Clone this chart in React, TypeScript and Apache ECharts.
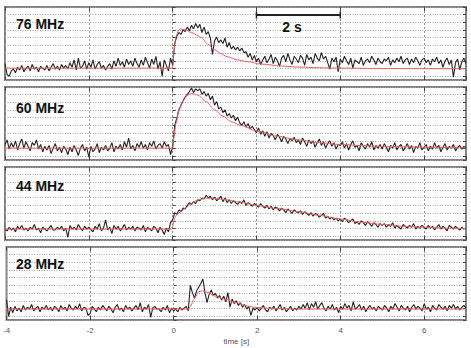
import React, { useEffect, useRef } from 'react';
import * as echarts from 'echarts';

const TIME_START = -4;
const TIME_STEP = 0.05;
const X_MIN = -4;
const X_MAX = 7;
const X_INTERVAL = 2;
const BAND_LABELS = ['76 MHz', '60 MHz', '44 MHz', '28 MHz'];
const SCALE_BAR_FROM = 2;
const SCALE_BAR_TO = 4;
const SCALE_BAR_LABEL = '2 s';
const X_AXIS_NAME = 'time [s]';

const FLUX_76 = [
  18, 6, 4, 10, 12, 8, 14, 11, 16, 9, 13, 15, 10, 17, 12, 14, 9, 15, 13, 11,
  16, 10, 14, 18, 12, 15, 11, 17, 13, 16, 12, 19, 14, 22, 11, 24, 13, 15, 21, 12,
  19, 14, 22, 12, 17, 20, 13, 16, 11, 15, 18, 12, 21, 15, 24, 16, 20, 14, 23, 17,
  21, 15, 24, 18, 14, 22, 16, 25, 19, 13, 23, 17, 26, 12, 20, 4, 22, 16, 10, 24,
  16, 40, 48, 52, 50, 55, 53, 58, 54, 60, 56, 62, 57, 61, 52, 58, 50, 53, 46, 28,
  43, 47, 41, 44, 40, 46, 36, 41, 34, 37, 33, 36, 32, 35, 30, 31, 25, 29, 22, 27,
  20, 24, 17, 22, 26, 19, 23, 28, 18, 25, 21, 15, 24, 27, 20, 29, 22, 17, 26, 23,
  19, 27, 24, 16, 28, 22, 25, 18, 29, 24, 21, 30, 23, 26, 19, 12, 24, 20, 25, 9,
  23, 19, 26, 21, 17, 24, 13, 22, 20, 18, 25, 16, 21, 23, 19, 26, 22, 17, 24, 20,
  18, 23, 21, 25, 16, 22, 19, 24, 20, 26, 18, 22, 24, 17, 23, 19, 25, 21, 16, 22,
  24, 19, 22, 16, 23, 20, 25, 18, 22, 14, 21, 24, 17, 22, 3, 19, 23, 11, 20, 24, 18,
];

const FLUX_60 = [
  17, 22, 12, 19, 14, 21, 11, 18, 23, 13, 20, 15, 10, 19, 16, 22, 12, 17, 9, 15,
  11, 16, 7, 13, 18, 10, 14, 8, 15, 12, 6, 14, 9, 16, 11, 5, 13, 17, 10, 14,
  3, 15, 9, 12, 18, 8, 14, 11, 16, 10, 13, 19, 9, 15, 12, 17, 11, 20, 14, 24,
  12, 16, 10, 18, 14, 20, 13, 17, 11, 19, 15, 21, 12, 16, 18, 13, 20, 15, 17, 6,
  14, 38, 46, 55, 60, 65, 69, 72, 75, 79, 74, 78, 76, 78, 72, 75, 70, 73, 66, 70,
  60, 64, 56, 58, 52, 55, 48, 51, 46, 49, 43, 47, 41, 38, 42, 36, 40, 34, 37, 33,
  30, 35, 28, 32, 26, 31, 24, 29, 27, 22, 28, 25, 20, 26, 23, 18, 24, 21, 25, 19,
  22, 17, 24, 20, 15, 22, 18, 21, 14, 19, 23, 16, 20, 13, 18, 21, 15, 19, 12, 17,
  16, 20, 13, 18, 11, 17, 21, 14, 16, 10, 19, 15, 12, 18, 14, 20, 11, 16, 13, 17,
  12, 18, 14, 9, 16, 13, 19, 11, 15, 17, 10, 14, 18, 12, 16, 8, 15, 13, 19, 11,
  14, 17, 10, 15, 12, 19, 13, 16, 9, 14, 18, 11, 15, 13, 17, 10, 14, 16, 12, 15, 13,
];

const FLUX_44 = [
  12, 10, 14, 11, 13, 9, 15, 12, 16, 11, 13, 10, 14, 12, 17, 11, 13, 8, 14, 12,
  10, 13, 16, 11, 11, 14, 12, 15, 10, 13, 3, 16, 12, 14, 11, 17, 13, 10, 15, 12,
  14, 11, 9, 15, 12, 18, 10, 13, 22, 11, 14, 7, 16, 12, 15, 10, 13, 17, 11, 14,
  12, 15, 10, 14, 13, 11, 16, 9, 14, 12, 10, 15, 13, 8, 14, 11, 6, 13, 9, 19,
  22, 30, 28, 33, 31, 35, 34, 38, 41, 39, 42, 40, 44, 43, 46, 45, 49, 46, 48, 44,
  47, 43, 45, 48, 42, 46, 41, 44, 40, 43, 41, 39, 42, 40, 44, 38, 41, 39, 37, 40,
  38, 36, 40, 37, 35, 38, 34, 37, 33, 36, 35, 32, 35, 33, 30, 34, 32, 29, 33, 31,
  30, 32, 28, 31, 29, 27, 30, 26, 29, 28, 25, 27, 29, 24, 26, 23, 25, 22, 24, 21,
  23, 20, 24, 22, 19, 21, 23, 18, 20, 17, 21, 19, 16, 20, 18, 15, 19, 17, 14, 18,
  16, 18, 14, 17, 15, 19, 13, 16, 14, 12, 17, 15, 13, 16, 14, 18, 12, 15, 13, 16,
  14, 12, 16, 13, 15, 11, 14, 17, 12, 15, 13, 10, 16, 14, 12, 15, 13, 11, 14, 12, 13,
];

const FLUX_28 = [
  22, 4, 14, 8, 15, 10, 13, 9, 16, 11, 14, 12, 17, 10, 13, 15, 9, 14, 12, 16,
  11, 14, 10, 15, 13, 9, 16, 12, 14, 10, 17, 13, 11, 15, 12, 18, 10, 14, 13, 5,
  7, 15, 12, 9, 14, 11, 16, 13, 10, 15, 12, 8, 14, 17, 11, 13, 9, 16, 12, 14,
  10, 13, 16, 11, 19, 9, 14, 12, 17, 3, 13, 15, 12, 12, 9, 14, 11, 16, 8, 13,
  10, 12, 9, 14, 11, 13, 15, 10, 38, 30, 24, 32, 36, 40, 45, 30, 19, 28, 33, 27,
  29, 24, 27, 22, 26, 20, 30, 14, 23, 18, 21, 16, 19, 14, 17, 12, 15, 5, 13, 11,
  14, 10, 13, 16, 11, 9, 14, 12, 15, 10, 13, 17, 11, 14, 9, 12, 15, 10, 13, 11,
  15, 12, 17, 13, 19, 11, 18, 14, 20, 12, 16, 19, 13, 10, 15, 12, 17, 11, 14, 8,
  15, 12, 18, 13, 16, 10, 20, 12, 14, 17, 11, 15, 9, 13, 16, 12, 14, 10, 15, 13,
  11, 16, 13, 9, 15, 12, 18, 14, 10, 16, 13, 11, 15, 9, 14, 17, 12, 15, 13, 10,
  18, 12, 14, 9, 16, 13, 11, 17, 14, 12, 15, 10, 16, 13, 17, 12, 15, 11, 14, 16, 13,
];

const FIT_76 = [
  [-4, 13], [0, 13], [0.03, 32], [0.08, 48], [0.15, 55], [0.2, 56], [0.3, 55],
  [0.45, 52], [0.67, 47], [0.85, 39], [1.0, 33], [1.15, 29], [1.3, 25.5],
  [1.55, 22], [1.8, 20], [2.1, 17.5], [2.6, 15.3], [3.0, 14.2], [3.5, 13.4],
  [4, 13], [5, 12.6], [7, 12.3],
];
const FIT_60 = [
  [-4, 13], [0, 13], [0.03, 25], [0.08, 40], [0.15, 55], [0.25, 65], [0.35, 71],
  [0.45, 73], [0.6, 71], [0.8, 64], [1.0, 55], [1.2, 48], [1.4, 42], [1.62, 38],
  [2.0, 32], [2.5, 26], [3, 22], [3.5, 19], [4, 17], [4.5, 15.8], [5, 15],
  [6, 14], [7, 13.4],
];
const FIT_44 = [
  [-4, 12], [-0.05, 12], [0, 15], [0.05, 24], [0.1, 28], [0.2, 31], [0.3, 35],
  [0.45, 40], [0.6, 44], [0.8, 46], [1.0, 45.5], [1.3, 44], [1.6, 41.5], [2, 38],
  [2.5, 34.5], [3, 31], [3.5, 27], [4, 23], [4.5, 19.5], [5, 17], [5.5, 15],
  [6, 14], [6.5, 13], [7, 12.5],
];
const FIT_28 = [
  [-4, 12], [0.35, 12], [0.4, 15], [0.5, 24], [0.6, 31], [0.7, 32], [0.8, 30.5],
  [1, 26], [1.2, 23], [1.5, 19], [1.8, 15], [2, 13.5], [2.5, 12.5], [3, 12], [7, 12],
];

const FLUXES = [FLUX_76, FLUX_60, FLUX_44, FLUX_28];
const FITS = [FIT_76, FIT_60, FIT_44, FIT_28];

const PANEL_TOPS = [7, 87, 167, 247];
const PANEL_HEIGHT = 73;
const LABEL_CENTERS = [24, 108, 186, 264];
const FONT = '"Liberation Sans", Arial, Helvetica, sans-serif';

export default function App() {
  const ref = useRef<HTMLDivElement>(null);

  useEffect(() => {
    if (!ref.current) return;
    const chart = echarts.init(ref.current, null, { renderer: 'svg' });

    const grids: any[] = [];
    const xAxes: any[] = [];
    const yAxes: any[] = [];
    const series: any[] = [];

    for (let i = 0; i < 4; i++) {
      const last = i === 3;
      grids.push({
        left: 5,
        width: 461,
        top: PANEL_TOPS[i],
        height: PANEL_HEIGHT,
        show: true,
        borderColor: '#808080',
        borderWidth: 2,
        backgroundColor: '#fff',
      });
      xAxes.push({
        type: 'value',
        gridIndex: i,
        min: X_MIN,
        max: X_MAX,
        interval: X_INTERVAL,
        position: 'bottom',
        axisLine: { show: false },
        axisTick: { show: true, inside: true, length: 4, lineStyle: { color: '#444' } },
        axisLabel: {
          show: last,
          fontSize: 8,
          color: '#555',
          margin: 6,
          fontFamily: FONT,
          showMaxLabel: false,
        },
        splitLine: { show: true, lineStyle: { color: '#8f8f8f', type: [2, 2], width: 1 } },
        name: last ? X_AXIS_NAME : '',
        nameLocation: 'middle',
        nameGap: 17,
        nameTextStyle: { fontSize: 8, color: '#555', fontFamily: FONT },
      });
      xAxes.push({
        type: 'value',
        gridIndex: i,
        min: X_MIN,
        max: X_MAX,
        interval: X_INTERVAL,
        position: 'top',
        axisLine: { show: false },
        axisTick: { show: true, inside: true, length: 4, lineStyle: { color: '#444' } },
        axisLabel: { show: false },
        splitLine: { show: false },
      });
      yAxes.push({
        type: 'value',
        gridIndex: i,
        min: 0,
        max: 80,
        show: false,
        splitLine: { show: false },
      });
      for (const pos of ['left', 'right']) {
        yAxes.push({
          type: 'value',
          gridIndex: i,
          min: 0,
          max: 9.5,
          interval: 1,
          inverse: true,
          position: pos,
          axisLine: { show: false },
          axisTick: { show: true, inside: true, length: 3, lineStyle: { color: '#444' } },
          axisLabel: { show: false },
          splitLine: {
            show: pos === 'left',
            lineStyle: { color: '#a6a6a6', type: [1, 1.5], width: 1 },
          },
        });
      }
      series.push({
        type: 'line',
        xAxisIndex: 2 * i,
        yAxisIndex: 3 * i,
        data: FLUXES[i].map((v, k) => [TIME_START + k * TIME_STEP, v]),
        showSymbol: false,
        symbol: 'none',
        lineStyle: { color: '#222', width: 1.1 },
        z: 3,
      });
      series.push({
        type: 'line',
        xAxisIndex: 2 * i,
        yAxisIndex: 3 * i,
        data: FITS[i],
        showSymbol: false,
        symbol: 'none',
        smooth: 0.3,
        smoothMonotone: 'x',
        lineStyle: { color: '#f45c5c', width: 1 },
        z: 4,
      });
    }

    chart.setOption({
      animation: false,
      backgroundColor: '#fff',
      grid: grids,
      xAxis: xAxes,
      yAxis: yAxes,
      series,
    });

    const p1 = chart.convertToPixel({ gridIndex: 0 } as any, [SCALE_BAR_FROM, 0]) as number[];
    const p2 = chart.convertToPixel({ gridIndex: 0 } as any, [SCALE_BAR_TO, 0]) as number[];
    const barY = 15;

    const graphics: any[] = BAND_LABELS.map((t, i) => ({
      type: 'text',
      x: 16,
      y: LABEL_CENTERS[i],
      z: 10,
      style: {
        text: t,
        fontSize: 14,
        fontWeight: 'bold',
        fontFamily: FONT,
        fill: '#111',
        align: 'left',
        verticalAlign: 'middle',
      },
    }));
    graphics.push(
      {
        type: 'line',
        z: 10,
        shape: { x1: p1[0], y1: barY, x2: p2[0], y2: barY },
        style: { stroke: '#222', lineWidth: 2 },
      },
      {
        type: 'line',
        z: 10,
        shape: { x1: p1[0], y1: barY - 3.5, x2: p1[0], y2: barY + 3.5 },
        style: { stroke: '#222', lineWidth: 1.5 },
      },
      {
        type: 'line',
        z: 10,
        shape: { x1: p2[0], y1: barY - 3.5, x2: p2[0], y2: barY + 3.5 },
        style: { stroke: '#222', lineWidth: 1.5 },
      },
      {
        type: 'text',
        x: 292,
        y: 26.5,
        z: 10,
        style: {
          text: SCALE_BAR_LABEL,
          fontSize: 14,
          fontWeight: 'bold',
          fontFamily: FONT,
          fill: '#111',
          align: 'center',
          verticalAlign: 'middle',
        },
      }
    );
    chart.setOption({ graphic: graphics });

    return () => chart.dispose();
  }, []);

  return (
    <div
      ref={ref}
      style={{ position: 'fixed', left: 0, top: 0, width: 471, height: 348, background: '#fff' }}
    />
  );
}
